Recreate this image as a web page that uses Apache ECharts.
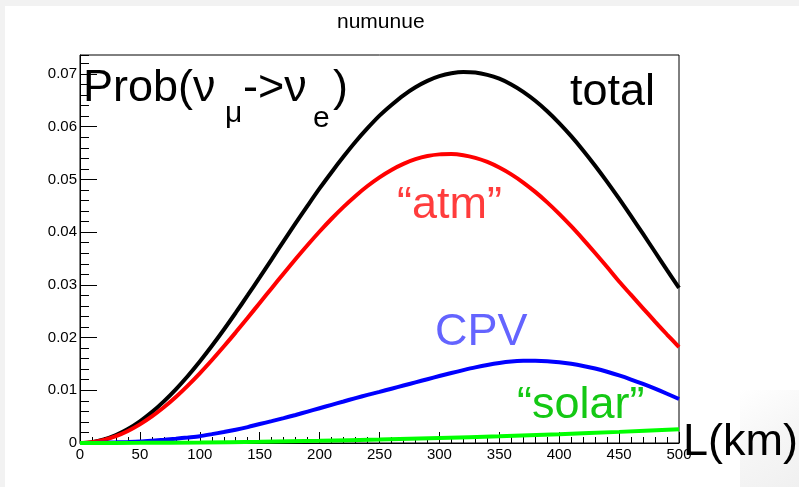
<!DOCTYPE html>
<html>
<head>
<meta charset="utf-8">
<script src="https://cdn.jsdelivr.net/npm/echarts@6/dist/echarts.min.js"></script>
<style>
  html, body { margin: 0; padding: 0; background: #f2f2f2; }
  #chart { width: 799px; height: 487px; }
</style>
</head>
<body>
<div id="chart"></div>
<script>
// Baseline L (km), sampled every 10 km
const distance = [0, 10, 20, 30, 40, 50, 60, 70, 80, 90, 100, 110, 120, 130, 140, 150, 160, 170, 180, 190,
  200, 210, 220, 230, 240, 250, 260, 270, 280, 290, 300, 310, 320, 330, 340, 350, 360, 370, 380, 390,
  400, 410, 420, 430, 440, 450, 460, 470, 480, 490, 500];
// nu_mu -> nu_e appearance probability
const total = [0, 0.00017, 0.00067, 0.0015, 0.00265, 0.00411, 0.00586, 0.0079, 0.01019, 0.01272,
  0.01547, 0.0184, 0.02149, 0.02471, 0.02803, 0.03143, 0.03485, 0.03829, 0.04171, 0.04503,
  0.04829, 0.05137, 0.05433, 0.05714, 0.05971, 0.06209, 0.06412, 0.06596, 0.06748, 0.06869,
  0.06958, 0.07014, 0.07039, 0.07029, 0.06984, 0.0691, 0.06801, 0.06661, 0.06491, 0.06293,
  0.06069, 0.05821, 0.0555, 0.0526, 0.04954, 0.04634, 0.04303, 0.03965, 0.03623, 0.03281, 0.02941];
// "atm" term
const atm = [0, 0.00014, 0.00058, 0.00129, 0.00228, 0.00353, 0.00504, 0.00678, 0.00873, 0.01089,
  0.01322, 0.0157, 0.0183, 0.02099, 0.02376, 0.02656, 0.02937, 0.03216, 0.0349, 0.03756,
  0.04012, 0.04254, 0.0448, 0.04687, 0.04875, 0.0504, 0.0518, 0.05295, 0.05383, 0.05443,
  0.05475, 0.0548, 0.05459, 0.05409, 0.05332, 0.05226, 0.05096, 0.04941, 0.04763, 0.04564,
  0.04346, 0.04112, 0.03863, 0.03604, 0.03337, 0.03063, 0.02809, 0.02555, 0.02303, 0.02058, 0.0182];
// CP-violating interference term
const cpv = [0, 0.00002, 0.00006, 0.00012, 0.0002, 0.0003, 0.00045, 0.00062, 0.00082, 0.00105,
  0.0013, 0.00168, 0.00208, 0.00252, 0.00302, 0.0036, 0.00415, 0.00472, 0.00532, 0.00596,
  0.0066, 0.00724, 0.00788, 0.00852, 0.00912, 0.0097, 0.0103, 0.0109, 0.0115, 0.0121,
  0.0127, 0.01327, 0.01382, 0.01434, 0.0148, 0.01518, 0.01545, 0.01558, 0.0156, 0.01552,
  0.01532, 0.01502, 0.01462, 0.01412, 0.01352, 0.01282, 0.01204, 0.0112, 0.0103, 0.00934, 0.00834];
// "solar" term, every 50 km
const distanceSolar = [0, 50, 100, 150, 200, 250, 300, 350, 400, 450, 500];
const solar = [0, 0.00003, 0.0001, 0.00023, 0.00042, 0.00065, 0.00094, 0.00127, 0.00166, 0.00211, 0.0026];

const yMax = 0.0736;
const FONT = "'Liberation Sans', Arial, Helvetica, sans-serif";

function pairs(xs, ys) { return xs.map((d, i) => [d, ys[i]]); }

function curve(name, xs, ys, color) {
  return {
    name: name, type: 'line', data: pairs(xs, ys), smooth: 0.3,
    showSymbol: false, symbol: 'none',
    lineStyle: { color: color, width: 4 },
    xAxisIndex: 0, yAxisIndex: 0, z: 3
  };
}

function label(text, x, y, size, color) {
  return {
    type: 'text', x: x, y: y, z: 100,
    style: { text: text, font: size + 'px ' + FONT, fill: color,
             textAlign: 'left', textVerticalAlign: 'middle', verticalAlign: 'middle' }
  };
}

const chart = echarts.init(document.getElementById('chart'), null, { renderer: 'canvas' });
chart.setOption({
  animation: false,
  backgroundColor: '#f2f2f2',
  title: {
    text: 'numunue', left: 332, top: 7,
    textStyle: { fontFamily: FONT, fontSize: 21, fontWeight: 'normal', color: '#000' }
  },
  grid: {
    left: 80, top: 55, width: 599, height: 388,
    show: true, borderColor: '#000', borderWidth: 1, backgroundColor: 'transparent',
    containLabel: false, outerBoundsMode: 'none'
  },
  xAxis: [{
    type: 'value', min: 0, max: 500, interval: 50,
    axisLine: { show: true, onZero: false, lineStyle: { color: '#000', width: 1 } },
    axisTick: { show: true, inside: true, length: 11, lineStyle: { color: '#000' } },
    minorTick: { show: true, splitNumber: 5, length: 6, lineStyle: { color: '#000' } },
    splitLine: { show: false },
    axisLabel: { margin: 4, fontFamily: FONT, fontSize: 15, color: '#000', showMaxLabel: true, hideOverlap: false }
  }],
  yAxis: [{
    type: 'value', min: 0, max: yMax, interval: 0.01,
    axisLine: { show: true, onZero: false, lineStyle: { color: '#000', width: 1 } },
    axisTick: { show: true, inside: true, length: 17, lineStyle: { color: '#000' } },
    splitLine: { show: false },
    axisLabel: {
      margin: 3, fontFamily: FONT, fontSize: 15, color: '#000',
      showMaxLabel: false, hideOverlap: false,
      formatter: v => (v === 0 ? '0' : (Math.abs(v - Math.round(v * 100) / 100) < 1e-9 ? v.toFixed(2) : ''))
    }
  }, {
    // finer subdivisions of the probability axis
    type: 'value', min: 0, max: yMax, interval: 0.002, position: 'left',
    axisLine: { show: false },
    axisTick: { show: true, inside: true, length: 9, lineStyle: { color: '#000' } },
    splitLine: { show: false },
    axisLabel: { show: false }
  }],
  series: [
    curve('total', distance, total, '#000000'),
    curve('atm', distance, atm, '#ff0000'),
    curve('CPV', distance, cpv, '#0000ff'),
    curve('solar', distanceSolar, solar, '#00ff00')
  ],
  graphic: [
    { type: 'rect', shape: { x: 5, y: 6, width: 794, height: 481 }, style: { fill: '#ffffff' }, z: -10, silent: true },
    { type: 'rect', shape: { x: 740, y: 390, width: 59, height: 97 }, z: -9, silent: true,
      style: { fill: new echarts.graphic.LinearGradient(0, 0, 1, 1, [
        { offset: 0, color: 'rgba(240,240,240,0)' },
        { offset: 0.5, color: 'rgba(240,240,240,0.6)' },
        { offset: 1, color: 'rgba(240,240,240,1)' }]) } },
    label('Prob(\u03bd', 83, 89, 45, '#000'),
    label('\u03bc', 225, 114, 30, '#000'),
    label('->\u03bd', 243, 89, 45, '#000'),
    label('e', 313, 119, 30, '#000'),
    label(')', 333, 89, 45, '#000'),
    label('total', 570, 93, 45, '#000'),
    label('\u201catm\u201d', 397, 206, 45, '#ff3c3c'),
    label('CPV', 435, 333, 45, '#6464ff'),
    label('\u201csolar\u201d', 517, 406, 45, '#14c814'),
    label('L(km)', 683, 443, 45, '#000')
  ]
});
</script>
</body>
</html>
